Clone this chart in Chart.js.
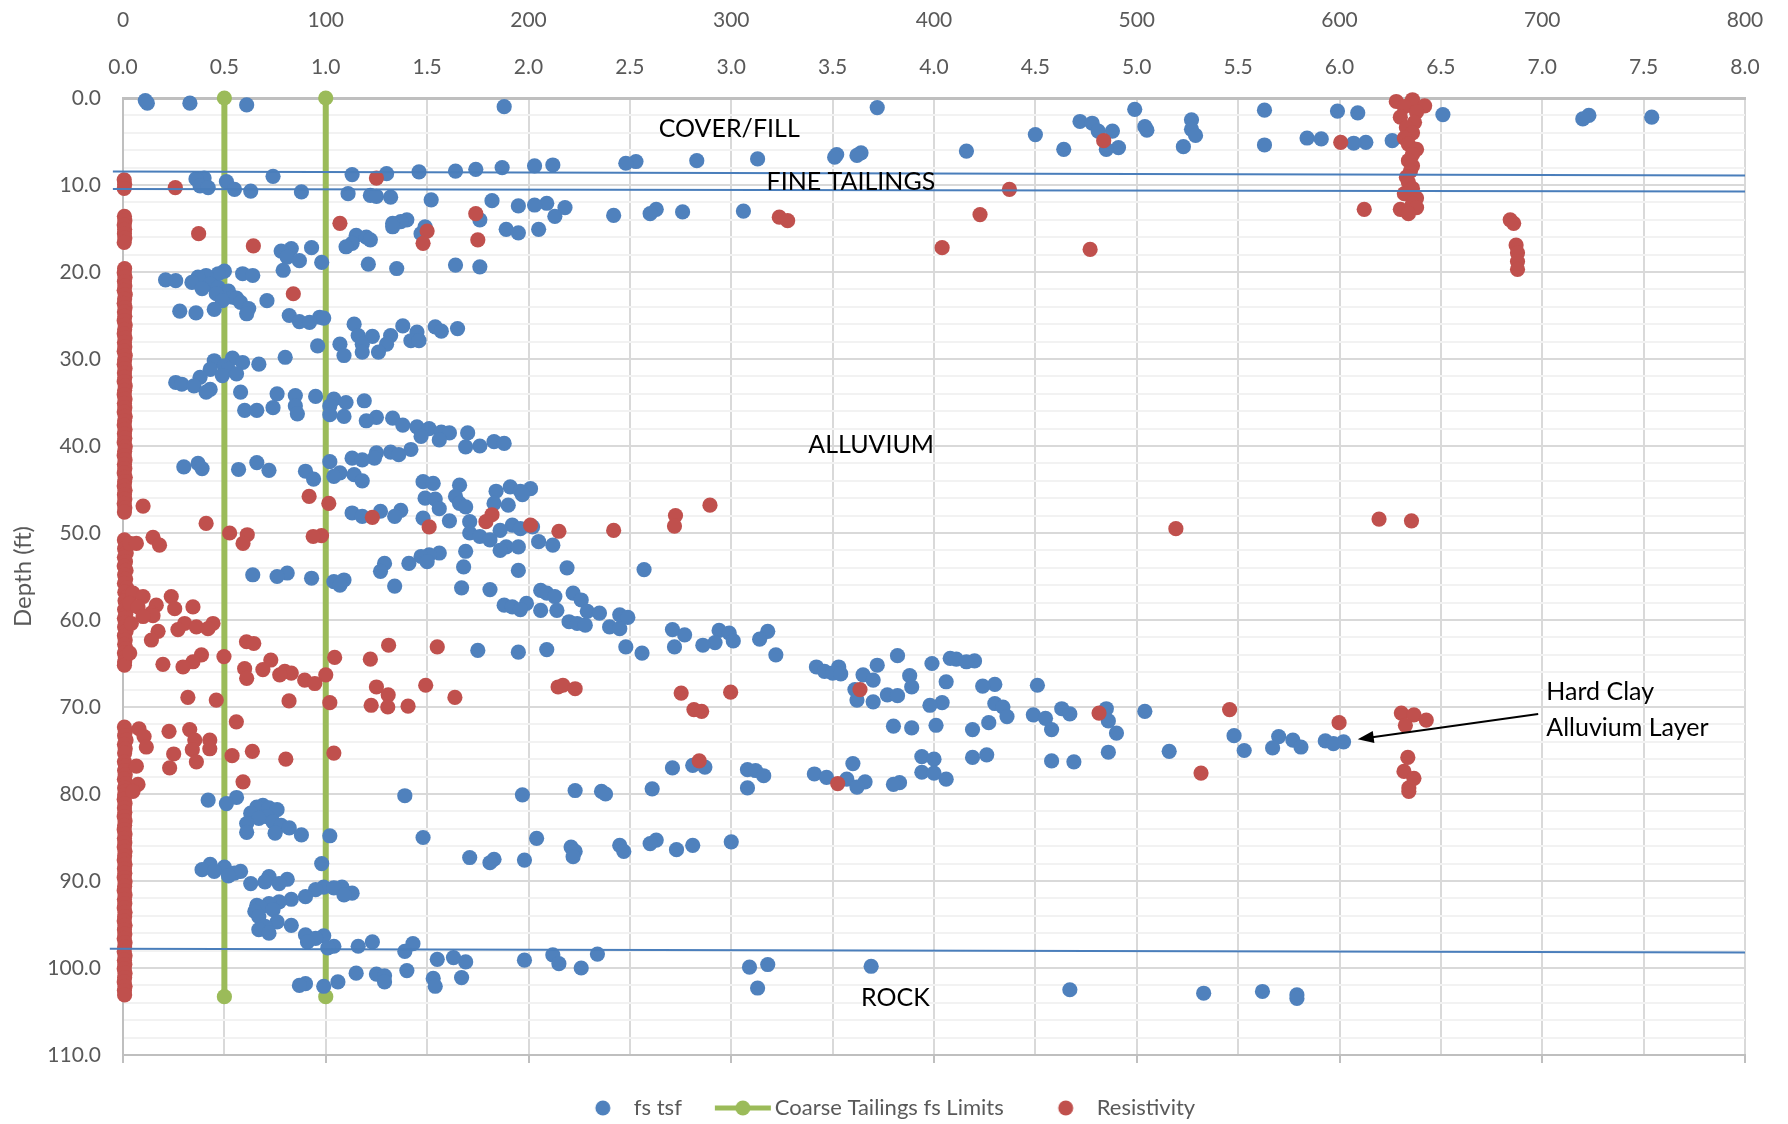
<!DOCTYPE html>
<html>
<head>
<meta charset="utf-8">
<title>fs and Resistivity vs Depth</title>
<script src="https://cdn.jsdelivr.net/npm/chart.js@4.4.1/dist/chart.umd.min.js"></script>
<style>
  html, body { margin: 0; padding: 0; background: #fff; }
  #wrap { width: 1788px; height: 1124px; }
</style>
</head>
<body>
<div id="wrap"><canvas id="depthChart" width="1788" height="1124"></canvas></div>
<script>

// sleeve friction fs (tsf) vs depth (ft): [fs, depth]
const fsTsf = [
    // cover / fill
    [0.11,0.3],[0.12,0.6],[0.33,0.6],[0.61,0.8],[1.88,1.0],[3.72,1.1],[4.99,1.3],[5.63,1.4],[5.99,1.5],[6.09,1.7],
    [6.51,1.9],[7.23,2.0],[7.54,2.2],[7.20,2.4],[5.27,2.5],[4.72,2.7],[4.78,2.9],[5.04,3.3],[5.27,3.6],[5.05,3.7],
    [4.81,3.8],[4.88,3.8],[4.50,4.2],[5.29,4.3],[5.84,4.6],[5.91,4.7],[6.26,4.9],[6.13,5.1],[6.07,5.2],[5.63,5.4],
    [5.23,5.6],[4.91,5.7],[4.64,5.9],[4.85,5.9],[4.16,6.1],[3.64,6.3],[3.52,6.5],[3.62,6.6],[3.51,6.8],[3.13,7.0],
    [2.83,7.2],[2.53,7.3],[2.48,7.5],[2.12,7.7],[2.03,7.8],[1.87,8.0],[1.74,8.2],[1.64,8.4],[1.46,8.5],[1.30,8.7],
    [1.13,8.8],[0.74,9.0],
    // fine tailings
    [0.40,9.2],[0.36,9.3],[0.51,9.6],[0.38,10.1],[0.42,10.3],[0.55,10.5],[0.63,10.7],[0.88,10.8],[1.11,11.0],[1.22,11.2],
    [1.25,11.3],[1.32,11.4],[1.52,11.7],[1.82,11.8],[2.09,12.1],[2.03,12.3],[1.95,12.4],[2.18,12.6],[2.63,12.8],[3.06,13.0],
    [2.76,13.1],[2.60,13.3],[2.42,13.5],[2.13,13.6],
    // alluvium
    [1.40,14.0],[1.76,14.0],[1.37,14.2],[1.33,14.4],[1.33,14.8],[1.49,14.8],[1.89,15.1],[2.05,15.1],[1.95,15.5],[1.47,15.6],
    [1.15,15.8],[1.20,16.0],[1.22,16.3],[1.13,16.7],[1.10,17.1],[0.93,17.2],[0.83,17.3],[0.78,17.6],[0.81,18.3],[0.87,18.7],
    [0.98,18.9],[1.21,19.1],[1.64,19.2],[1.76,19.4],[1.35,19.6],[0.79,19.8],
    [0.50,19.9],[0.47,20.2],[0.59,20.2],[0.41,20.4],[0.64,20.4],[0.37,20.6],[0.21,20.9],[0.26,21.0],[0.34,21.2],[0.43,21.4],
    [0.47,21.8],[0.39,21.9],[0.52,22.2],[0.46,22.5],[0.54,22.9],[0.56,23.0],[0.49,23.3],[0.71,23.3],[0.58,23.5],[0.62,24.2],
    [0.45,24.3],[0.28,24.5],[0.36,24.7],[0.61,24.8],[0.82,25.0],[0.97,25.2],[0.99,25.3],[0.87,25.7],[0.92,25.8],
    [1.14,26.0],[1.38,26.2],[1.54,26.3],[1.65,26.5],[1.57,26.8],[1.45,26.9],[1.16,27.3],[1.32,27.3],[1.23,27.4],[1.42,27.9],
    [1.46,27.9],[1.07,28.3],[1.18,28.3],[1.30,28.3],[0.96,28.5],[1.18,29.2],[1.26,29.2],[1.09,29.6],[0.80,29.8],
    [0.54,29.9],[0.45,30.2],[0.59,30.4],[0.67,30.6],[0.50,30.8],[0.43,31.2],[0.52,31.2],[0.56,31.7],[0.49,31.9],[0.38,32.1],
    [0.26,32.7],[0.29,32.9],[0.35,33.1],[0.43,33.5],[0.41,33.8],[0.58,33.8],
    [0.76,34.0],[0.85,34.2],[0.95,34.3],[1.04,34.6],[1.19,34.8],[1.10,35.0],[0.85,35.4],[1.02,35.4],[0.74,35.6],[0.60,35.9],
    [0.66,35.9],[0.86,36.3],[1.02,36.4],[1.09,36.6],[1.25,36.7],[1.33,36.8],[1.20,37.1],[1.38,37.6],[1.45,37.8],[1.51,38.0],
    [1.57,38.4],[1.61,38.5],[1.70,38.5],[1.47,38.9],[1.56,39.3],[1.83,39.5],[1.88,39.7],[1.76,40.0],[1.69,40.1],[1.42,40.4],
    [1.32,40.7],[1.25,40.8],[1.36,41.0],[1.13,41.4],[1.24,41.4],[1.18,41.6],[1.02,41.8],
    [0.66,41.9],[0.37,42.0],[0.30,42.4],[0.39,42.6],[0.57,42.7],[0.72,42.8],[0.90,42.9],[1.07,43.1],[1.14,43.3],[1.04,43.5],
    [0.94,43.8],[1.18,44.0],
    [1.48,44.1],[1.53,44.3],[1.66,44.5],[1.91,44.7],[2.01,44.9],[1.84,45.2],[1.96,45.2],[1.97,45.6],[1.64,45.8],[1.49,46.0],
    [1.54,46.1],[1.66,46.6],[1.83,46.6],[1.90,46.8],[1.69,47.0],[1.56,47.2],[1.37,47.4],[1.27,47.5],[1.13,47.7],[1.18,48.1],
    [1.34,48.1],[1.48,48.3],[1.61,48.6],[1.71,48.7],
    [1.92,49.1],[2.02,49.3],[1.96,49.5],[1.86,49.7],[1.71,50.0],[1.76,50.4],[1.81,50.8],[2.05,51.0],[2.12,51.4],[1.89,51.6],
    [1.95,51.6],[1.86,52.0],[1.69,52.1],[1.56,52.3],[1.51,52.5],[1.47,52.7],[1.50,53.3],[1.29,53.5],[1.41,53.5],[1.68,53.9],
    [2.19,54.0],[2.57,54.2],[1.95,54.3],[1.27,54.4],
    [0.81,54.6],[0.64,54.8],[0.76,55.0],[0.93,55.2],[1.09,55.4],[1.04,55.6],[1.07,56.0],[1.34,56.1],[1.67,56.3],[1.81,56.5],
    [2.06,56.6],[2.09,56.9],[2.22,56.9],[2.13,57.3],[2.26,57.7],[1.99,58.1],[1.88,58.3],[1.92,58.5],[1.96,58.8],[2.06,58.9],
    [2.14,58.9],[2.29,59.0],[2.35,59.2],[2.45,59.4],[2.49,59.7],[2.20,60.2],[2.24,60.4],[2.28,60.6],[2.40,60.8],[2.45,61.0],
    [2.71,61.1],[2.94,61.2],[3.18,61.3],[2.99,61.5],[2.77,61.7],[3.14,62.2],[3.01,62.4],[2.92,62.6],[2.86,62.9],[2.48,63.1],
    [2.72,63.1],[2.09,63.4],[1.75,63.5],[1.95,63.7],[2.56,63.8],[3.22,64.0],
    [3.82,64.1],[4.08,64.4],[4.11,64.5],[4.20,64.7],[4.16,64.8],[3.99,65.0],[3.72,65.2],[3.42,65.4],[3.53,65.4],[3.46,65.9],
    [3.50,66.1],[3.54,66.2],[3.65,66.3],[3.88,66.4],[3.70,66.9],[4.06,67.1],[4.30,67.4],[4.51,67.5],[4.24,67.6],[3.89,67.7],
    [3.61,68.0],[3.77,68.6],[3.82,68.7],[3.62,69.2],[3.70,69.4],[4.04,69.5],[4.30,69.6],[3.98,69.8],[4.34,70.0],[4.63,70.2],
    [4.85,70.2],[5.04,70.5],[4.67,70.8],[4.49,70.9],[4.36,71.1],[4.55,71.3],[4.86,71.6],[4.27,71.8],[4.01,72.1],[3.80,72.2],
    [3.89,72.4],[4.19,72.6],[4.58,72.6],[4.90,73.0],
    // hard clay alluvium layer
    [5.48,73.3],[5.70,73.4],[5.77,73.8],[5.93,73.9],[6.02,74.0],[5.97,74.2],[5.81,74.6],[5.67,74.7],[5.53,75.0],[5.16,75.1],
    [4.86,75.2],[4.26,75.5],[3.94,75.7],[4.19,75.8],[4.00,76.0],[4.58,76.2],[4.69,76.3],[3.60,76.5],[2.81,76.7],[2.87,76.9],
    [2.71,77.0],[3.08,77.2],[3.12,77.3],[3.94,77.5],[4.00,77.6],[3.41,77.7],[3.16,77.9],[3.47,78.1],[3.57,78.3],[4.06,78.3],
    [3.66,78.6],[3.83,78.7],[3.80,78.9],[3.62,79.2],[3.08,79.3],[2.61,79.4],[2.23,79.6],[2.36,79.7],[2.38,80.0],[1.97,80.1],
    [1.39,80.2],
    [0.56,80.4],[0.42,80.7],[0.51,81.1],[0.69,81.3],[0.66,81.5],[0.72,81.6],[0.76,81.8],[0.63,82.2],[0.71,82.6],[0.67,82.8],
    [0.74,83.2],[0.61,83.4],[0.78,83.6],[0.82,83.9],[0.61,84.4],[0.75,84.5],[0.88,84.7],[1.02,84.8],[1.48,85.0],[2.04,85.1],
    [2.63,85.3],[3.00,85.5],[2.60,85.7],[2.45,85.9],[2.81,85.9],[2.21,86.1],[2.73,86.4],[2.23,86.6],[2.47,86.6],[2.22,87.2],
    [1.71,87.3],[1.83,87.5],[1.98,87.6],[1.81,87.9],[0.98,88.0],
    [0.43,88.1],[0.50,88.4],[0.39,88.7],[0.45,88.9],[0.58,88.9],[0.55,89.1],[0.52,89.4],[0.72,89.5],[0.81,89.8],[0.70,90.1],
    [0.63,90.3],[0.77,90.3],[0.99,90.7],[1.08,90.7],[1.04,90.8],[0.95,91.0],[1.13,91.4],[1.09,91.6],[0.90,91.8],[0.83,92.1],
    [0.77,92.4],[0.72,92.6],[0.66,92.8],[0.68,93.0],[0.74,93.3],[0.65,93.5],[0.67,94.1],[0.76,94.7],[0.83,95.1],[0.70,95.2],
    [0.67,95.6],[0.72,96.0],
    [0.90,96.2],[0.99,96.3],[0.95,96.6],[0.91,97.0],[1.23,97.0],[1.43,97.2],[1.04,97.5],[1.16,97.5],[1.01,97.7],[1.39,98.1],
    // rock
    [2.34,98.4],[2.12,98.5],[1.63,98.8],[1.55,99.0],[1.98,99.1],[1.69,99.3],[2.15,99.5],[3.18,99.6],[3.69,99.8],[3.09,99.9],
    [2.26,100.0],[1.40,100.3],[1.15,100.6],[1.25,100.7],[1.29,100.9],[1.67,101.1],[1.53,101.2],[1.29,101.6],[1.06,101.6],[0.90,101.8],
    [0.87,102.0],[0.99,102.1],[1.54,102.1],[3.13,102.3],[4.67,102.5],[5.62,102.7],[5.33,102.9],[5.79,103.1],[5.79,103.5]
];

// resistivity vs depth (ft): [resistivity, depth]
const resistivity = [
    // readings at the left edge
    [0.6,9.4],[0.8,9.9],[0.6,10.4],
    [0.7,13.6],[0.9,14.1],[0.6,14.6],[0.8,15.1],[0.7,15.6],[0.9,16.1],[0.6,16.6],
    [0.8,19.6],[0.6,20.1],[1.0,20.6],[0.7,21.1],[0.9,21.6],[0.6,22.1],[1.1,22.6],[0.8,23.1],[0.6,23.6],[1.0,24.1],
    [0.7,24.6],[0.9,25.1],[0.6,25.6],[1.1,26.1],[0.8,26.6],[0.6,27.1],[1.0,27.6],[0.7,28.1],[0.9,28.6],[0.6,29.1],
    [1.1,29.6],[0.8,30.1],[0.6,30.6],[1.0,31.1],[0.7,31.6],[0.9,32.1],[0.6,32.6],[1.1,33.1],[0.8,33.6],[0.6,34.1],
    [1.0,34.6],[0.7,35.1],[0.9,35.6],[0.6,36.1],[1.1,36.6],[0.8,37.1],[0.6,37.6],[1.0,38.1],[0.7,38.6],[0.9,39.1],
    [0.6,39.6],[1.1,40.1],[0.8,40.6],[0.6,41.1],[1.0,41.6],[0.7,42.1],[0.9,42.6],[0.6,43.1],[1.1,43.6],[0.8,44.1],
    [0.6,44.6],[1.0,45.1],[0.7,45.6],[0.9,46.1],[0.6,46.6],[0.9,47.1],[0.7,47.6],
    [0.7,50.8],[1.4,51.3],[0.8,51.8],[1.6,52.3],[0.7,52.8],[1.2,53.3],[0.6,53.8],[1.5,54.3],[0.8,54.8],[1.3,55.3],
    [0.7,55.8],[1.8,56.3],[0.9,56.8],[2.2,57.3],[1.0,57.8],[1.9,58.3],[0.8,58.8],[1.4,59.3],[0.7,59.8],[1.2,60.3],
    [0.8,60.8],[1.5,61.3],[0.7,61.8],[1.1,62.3],[0.8,62.8],[1.4,63.3],[0.7,63.8],[1.2,64.3],[0.8,64.8],[0.7,65.2],
    [0.7,72.3],[1.2,72.8],[0.8,73.3],[1.5,73.8],[0.7,74.3],[1.1,74.8],[0.8,75.3],[0.7,76.3],[1.3,76.8],[0.8,77.3],
    [1.1,77.8],[0.7,78.3],[1.4,78.8],[0.8,79.3],[1.2,79.7],
    [0.8,80.1],[0.6,80.6],[1.0,81.1],[0.7,81.6],[0.9,82.1],[0.6,82.6],[1.0,83.1],[0.8,83.6],[0.6,84.1],[1.0,84.6],
    [0.7,85.1],[0.9,85.6],[0.6,86.1],[1.0,86.6],[0.8,87.1],[0.6,87.6],[1.0,88.1],[0.7,88.6],[0.9,89.1],[0.6,89.6],
    [1.0,90.1],[0.8,90.6],[0.6,91.1],[1.0,91.6],[0.7,92.1],[0.9,92.6],[0.6,93.1],[1.0,93.6],[0.8,94.1],[0.6,94.6],
    [1.0,95.1],[0.7,95.6],[0.9,96.1],[0.6,96.6],[1.0,97.1],[0.8,97.6],[0.6,98.1],[1.0,98.6],[0.7,99.1],[0.9,99.6],
    [0.6,100.1],[1.0,100.6],[0.8,101.1],[0.6,101.6],[1.0,102.1],[0.7,102.6],[0.8,103.1],
    // low range
    [125,9.2],[25.8,10.3],[174,13.3],[107,14.4],[150,15.3],[37.3,15.6],[175,16.3],[148,16.7],[64.3,17.0],[84,22.5],
    [91.8,45.8],[101.5,46.6],[9.9,46.9],[182,47.9],[123,48.2],[179,48.7],[41,48.9],[201,49.1],[151,49.3],[215,49.8],
    [52.6,50.0],[61.3,50.2],[97.9,50.3],[93.8,50.4],[59.2,51.2],
    [14.8,50.5],[3.3,51.2],[6.6,51.2],[18,51.4],[4.9,56.9],[9.9,57.3],[23.8,57.3],[3.3,58.1],[16.4,58.3],[7.4,58.5],
    [34.5,58.5],[25.5,58.7],[14,59.2],[14.8,59.5],[9.9,59.6],[4.1,60.4],[30.4,60.4],[44.4,60.4],[36.2,60.8],[41.9,61.0],
    [27.1,61.1],[17.3,61.3],[14,62.3],[60.9,62.5],[64.5,62.7],[131,62.9],[155,63.1],[3.3,63.8],[38.7,64.0],[49.8,64.2],
    [104.4,64.3],[122,64.5],[72.9,64.6],[34.5,64.8],[19.7,65.1],[29.6,65.4],[60,65.6],[69,65.7],[79.8,65.9],[83,66.1],
    [77.3,66.3],[100,66.3],[61,66.7],[89.6,66.9],[94.6,67.3],[149.3,67.5],[125,67.7],[214.6,67.7],[130.8,68.6],[32,68.9],
    [163.7,68.9],[46,69.2],[81.9,69.3],[102,69.5],[122.4,69.8],[140.6,69.9],[130.6,70.0],[55.9,71.7],
    [7.9,72.5],[32.9,72.6],[22.7,72.8],[10.4,73.4],[35.4,73.8],[42.8,73.8],[11.5,74.6],[42.8,74.8],[34.2,74.9],[63.8,75.1],
    [104,75.3],[25,75.4],[53.8,75.6],[80.3,76.0],[36.2,76.3],[6.6,76.8],[23,77.0],[59.2,78.6],[7.4,78.9],[4.9,79.7],
    // mid range
    [323.7,13.7],[327.8,14.1],[404,17.2],[422.7,13.4],[437.2,10.5],[477,17.4],[483.7,4.9],[600.6,5.1],[612.2,12.8],
    [289.5,46.8],[272.5,48.0],[272,49.2],[242,49.7],[519.3,49.5],[619.5,48.4],[635.5,48.6],
    [217,67.5],[223,67.9],[363.5,68.0],[299.7,68.3],[275.3,68.4],[281.6,70.3],[285.4,70.5],[481.4,70.7],[545.8,70.3],[599.8,71.8],
    [630.5,70.7],[636.7,70.9],[642.8,71.5],[632.5,72.1],[633.7,75.8],[284.2,76.2],[631.8,77.4],[531.7,77.6],[636.7,78.2],[352.5,78.8],
    [634.2,79.3],[634.2,79.7],
    // high readings near the surface
    [628,0.4],[636,0.2],[642,0.9],[632,1.0],[638,1.6],[630,2.2],[637,2.8],[633,3.4],[636,4.0],[632,4.6],
    [634,5.3],[638,5.9],[636,6.5],[634,7.2],[636,7.8],[635,8.4],[633,9.1],[634,9.7],[636,10.4],[632,11.0],
    [638,11.5],[636,12.1],[630,12.8],[638,12.6],[634,13.3],
    [684.2,14.0],[685.9,14.4],[687.1,16.9],[687.8,17.8],[687.8,18.8],[687.8,19.7]
];

// coarse tailings fs limits (tsf) and their depth span (ft)
const coarseLimits = [0.5, 1.0];
const limitDepths = [0, 103.3];

// layer boundaries drawn across the plot: [[fs, depth], [fs, depth]]
const layerBoundaries = [
    [[-0.05, 8.45], [8.0, 8.9]],
    [[-0.05, 10.46], [8.0, 10.74]],
    [[-0.065, 97.8], [8.0, 98.22]]
];

const layerNames = ['COVER/FILL', 'FINE TAILINGS', 'ALLUVIUM', 'ROCK'];
const layerNameAt = [[2.99, 3.5], [3.59, 9.65], [3.69, 39.9], [3.81, 103.4]];
const calloutText = ['Hard Clay', 'Alluvium Layer'];
const calloutAt = [[7.02, 68.3], [7.02, 72.45]];
const calloutArrow = [[6.98, 70.8], [6.09, 73.7]];


const blue = '#4F81BD';
const red = '#C0504D';
const green = '#9BBB59';
const lineBlue = '#4A7EBB';
const axisGrey = '#595959';

Chart.defaults.font.family = 'Lato';


function legendIcon(w, h, draw) {
    const c = document.createElement('canvas');
    c.width = w;
    c.height = h;
    draw(c.getContext('2d'));
    return c;
}

const dotIcon = (color) => legendIcon(48, 16, g => {
    g.fillStyle = color;
    g.beginPath();
    g.arc(28, 8, 7.5, 0, Math.PI * 2);
    g.fill();
});

const limitIcon = legendIcon(64, 16, g => {
    g.strokeStyle = green;
    g.lineWidth = 5;
    g.beginPath();
    g.moveTo(7, 8);
    g.lineTo(63, 8);
    g.stroke();
    g.fillStyle = green;
    g.beginPath();
    g.arc(35, 8, 7.5, 0, Math.PI * 2);
    g.fill();
});

const legendItems = [
    { text: 'fs tsf', pointStyle: dotIcon(blue), fillStyle: blue, strokeStyle: blue, lineWidth: 0, hidden: false, datasetIndex: 0, fontColor: axisGrey },
    { text: 'Coarse Tailings fs Limits', pointStyle: limitIcon, fillStyle: green, strokeStyle: green, lineWidth: 0, hidden: false, datasetIndex: 1, fontColor: axisGrey },
    { text: 'Resistivity', pointStyle: dotIcon(red), fillStyle: red, strokeStyle: red, lineWidth: 0, hidden: false, datasetIndex: 2, fontColor: axisGrey }
];


const limitData = [];
coarseLimits.forEach((v, i) => {
    if (i > 0) limitData.push({ x: v, y: null });
    limitDepths.forEach(d => limitData.push({ x: v, y: d }));
});


// layer names and the hard clay callout
const layerNotes = {
    id: 'layerNotes',
    afterDatasetsDraw(chart) {
        const { ctx, scales } = chart;
        const px = v => scales.x.getPixelForValue(v);
        const py = v => scales.y.getPixelForValue(v);
        ctx.save();
        ctx.fillStyle = '#000';
        ctx.font = '25px Lato';
        ctx.textBaseline = 'middle';
        ctx.textAlign = 'center';
        layerNames.forEach((name, i) => {
            ctx.fillText(name, px(layerNameAt[i][0]), py(layerNameAt[i][1]));
        });
        ctx.textAlign = 'left';
        calloutText.forEach((t, i) => {
            ctx.fillText(t, px(calloutAt[i][0]), py(calloutAt[i][1]));
        });

        const x1 = px(calloutArrow[0][0]), y1 = py(calloutArrow[0][1]);
        const x2 = px(calloutArrow[1][0]), y2 = py(calloutArrow[1][1]);
        const ang = Math.atan2(y2 - y1, x2 - x1);
        const head = 16;
        ctx.strokeStyle = '#000';
        ctx.lineWidth = 2;
        ctx.beginPath();
        ctx.moveTo(x1, y1);
        ctx.lineTo(x2 - Math.cos(ang) * head * 0.8, y2 - Math.sin(ang) * head * 0.8);
        ctx.stroke();
        ctx.beginPath();
        ctx.moveTo(x2, y2);
        ctx.lineTo(x2 - head * Math.cos(ang) + 6 * Math.sin(ang), y2 - head * Math.sin(ang) - 6 * Math.cos(ang));
        ctx.lineTo(x2 - head * Math.cos(ang) - 6 * Math.sin(ang), y2 - head * Math.sin(ang) + 6 * Math.cos(ang));
        ctx.closePath();
        ctx.fillStyle = '#000';
        ctx.fill();
        ctx.restore();
    }
};


const tickFont = { size: 21 };

new Chart(document.getElementById('depthChart').getContext('2d'), {
    type: 'scatter',
    data: {
        datasets: [
            {
                label: 'fs tsf',
                data: fsTsf.map(([v, d]) => ({ x: v, y: d })),
                xAxisID: 'x',
                backgroundColor: blue,
                borderWidth: 0,
                pointRadius: 7.6,
                order: 2,
                clip: false
            },
            {
                label: 'Coarse Tailings fs Limits',
                data: limitData,
                xAxisID: 'x',
                showLine: true,
                spanGaps: false,
                borderColor: green,
                borderWidth: 6,
                backgroundColor: green,
                pointRadius: 7.6,
                pointBorderWidth: 0,
                order: 3,
                clip: false
            },
            {
                label: 'Resistivity',
                data: resistivity.map(([r, d]) => ({ x: r, y: d })),
                xAxisID: 'x2',
                backgroundColor: red,
                borderWidth: 0,
                pointRadius: 7.6,
                order: 1,
                clip: false
            },
            ...layerBoundaries.map(seg => ({
                label: '',
                data: seg.map(([v, d]) => ({ x: v, y: d })),
                xAxisID: 'x',
                showLine: true,
                borderColor: lineBlue,
                borderWidth: 2,
                pointRadius: 0,
                order: 0,
                clip: false
            }))
        ]
    },
    options: {
        responsive: false,
        animation: false,
        devicePixelRatio: 1,
        events: [],
        layout: { padding: { left: 25, right: 43, top: 0, bottom: -5 } },
        plugins: {
            tooltip: { enabled: false },
            legend: {
                position: 'bottom',
                labels: {
                    usePointStyle: true,
                    pointStyleWidth: 48,
                    padding: 34,
                    color: axisGrey,
                    font: { size: 22 },
                    generateLabels: () => legendItems
                }
            }
        },
        scales: {
            x: {
                type: 'linear',
                position: 'top',
                min: 0,
                max: 8,
                weight: 0,
                afterFit: s => { s.height = 47; },
                ticks: { stepSize: 0.5, padding: 18, color: axisGrey, font: tickFont, maxRotation: 0, autoSkip: false,
                    callback: v => v.toFixed(1) },
                grid: { drawTicks: false, color: '#D9D9D9', lineWidth: 2 },
                border: { color: '#BFBFBF', width: 3 }
            },
            x2: {
                type: 'linear',
                position: 'top',
                min: 0,
                max: 800,
                weight: 1,
                afterFit: s => { s.height = 51; },
                ticks: { stepSize: 100, padding: 18, color: axisGrey, font: tickFont, maxRotation: 0, autoSkip: false },
                grid: { display: false, drawTicks: false },
                border: { display: false }
            },
            x3: {
                type: 'linear',
                position: 'bottom',
                min: 0,
                max: 800,
                afterFit: s => { s.height = 8; },
                ticks: { display: false, stepSize: 100 },
                grid: { drawOnChartArea: false, tickLength: 8, color: '#BFBFBF', lineWidth: 2 },
                border: { color: '#BFBFBF', width: 2 }
            },
            y: {
                type: 'linear',
                reverse: true,
                min: 0,
                max: 110,
                afterFit: s => { s.width = 98; },
                ticks: { stepSize: 2, autoSkip: false, padding: 22, color: axisGrey, font: tickFont,
                    callback: v => (v % 10 === 0 ? v.toFixed(1) : '') },
                grid: {
                    drawTicks: false,
                    lineWidth: 2,
                    color: c => (c.tick && c.tick.value % 10 === 0 ? '#D9D9D9' : '#F2F2F2')
                },
                border: { color: '#BFBFBF', width: 2 },
                title: { display: true, text: 'Depth (ft)', color: axisGrey, font: { size: 24 }, padding: { top: -16, bottom: 0 } }
            }
        }
    },
    plugins: [layerNotes]
});
</script>
</body>
</html>
